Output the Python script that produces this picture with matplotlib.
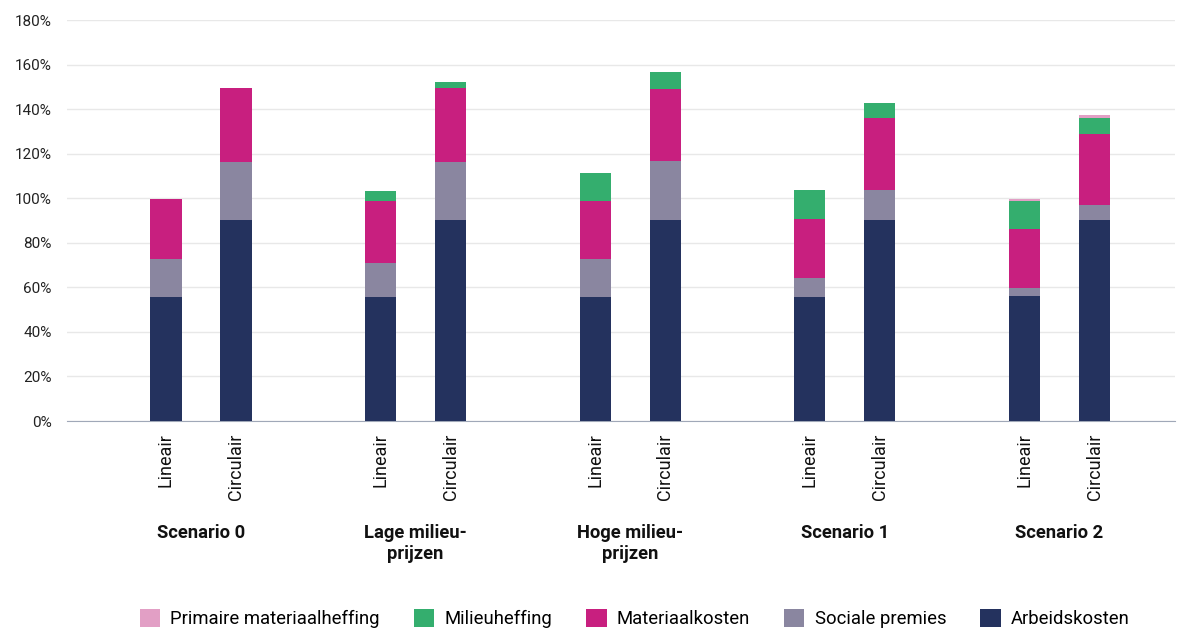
import matplotlib.pyplot as plt
import matplotlib.transforms as mtransforms
from matplotlib.patches import Patch
from matplotlib.ticker import PercentFormatter
import numpy as np

plt.rcParams['font.family'] = ['Roboto', 'DejaVu Sans']

# groepen en varianten
groepen = ["Scenario 0", "Lage milieu-\nprijzen", "Hoge milieu-\nprijzen", "Scenario 1", "Scenario 2"]
varianten = ["Lineair", "Circulair"]

# waarden in %, volgorde: per groep Lineair, Circulair
arbeidskosten = [55.7, 90.2, 55.7, 90.2, 55.7, 90.2, 55.7, 90.2, 56.1, 90.2]
sociale_premies = [17.0, 26.0, 15.2, 26.0, 17.0, 26.5, 8.5, 13.5, 3.6, 6.7]
materiaalkosten = [27.0, 33.3, 27.8, 33.3, 26.0, 32.3, 26.5, 32.3, 26.5, 31.9]
milieuheffing = [0.0, 0.0, 4.5, 2.7, 12.6, 7.6, 13.0, 6.7, 12.5, 7.2]
primaire_heffing = [0.0, 0.0, 0.0, 0.0, 0.0, 0.0, 0.0, 0.0, 0.9, 1.3]

series = [
    ("Arbeidskosten", arbeidskosten, "#24325e"),
    ("Sociale premies", sociale_premies, "#8a86a0"),
    ("Materiaalkosten", materiaalkosten, "#c81f7f"),
    ("Milieuheffing", milieuheffing, "#34ae6e"),
    ("Primaire materiaalheffing", primaire_heffing, "#e29fc5"),
]

fig = plt.figure(figsize=(11.84, 6.28), dpi=100)
ax = fig.add_axes([0.0566, 0.3296, 0.9358, 0.6384])

g = np.arange(len(groepen))
x = np.array([[gi - 0.163, gi + 0.163] for gi in g]).ravel()
onder = np.zeros(len(x))
for naam, vals, kleur in series:
    vals = np.array(vals)
    ax.bar(x, vals, width=0.145, bottom=onder, color=kleur, label=naam, zorder=3)
    onder += vals

ax.set_xlim(-0.624, 4.538)
ax.set_ylim(0, 180)
ax.set_yticks(np.arange(0, 181, 20))
ax.yaxis.set_major_formatter(PercentFormatter(decimals=0))
ax.grid(axis='y', color='#e8e8e8', linewidth=1, zorder=0)
for s in ['top', 'right', 'left']:
    ax.spines[s].set_visible(False)
ax.spines['bottom'].set_color('#a0a8b8')
ax.tick_params(axis='y', length=0, labelsize=11, pad=11, labelcolor='#222222')

ax.set_xticks(x)
ax.set_xticklabels(varianten * len(groepen), rotation=90, fontsize=13, color='#111111')
ax.tick_params(axis='x', length=0, pad=9)

trans = mtransforms.blended_transform_factory(ax.transData, ax.transAxes)
for gi, naam in zip(g, groepen):
    ax.text(gi, -0.258, naam, transform=trans, ha='center', va='top',
            fontsize=13.2, fontweight='bold', linespacing=1.2, color='#111111')

handles = [Patch(facecolor=k, label=n) for n, _, k in series[::-1]]
fig.legend(handles=handles, loc='lower center', ncol=5, frameon=False,
           bbox_to_anchor=(0.536, -0.027), fontsize=13.3, handlelength=1.1,
           handleheight=1.1, handletextpad=0.55, columnspacing=1.85)

fig.savefig("out.png", dpi=100)
